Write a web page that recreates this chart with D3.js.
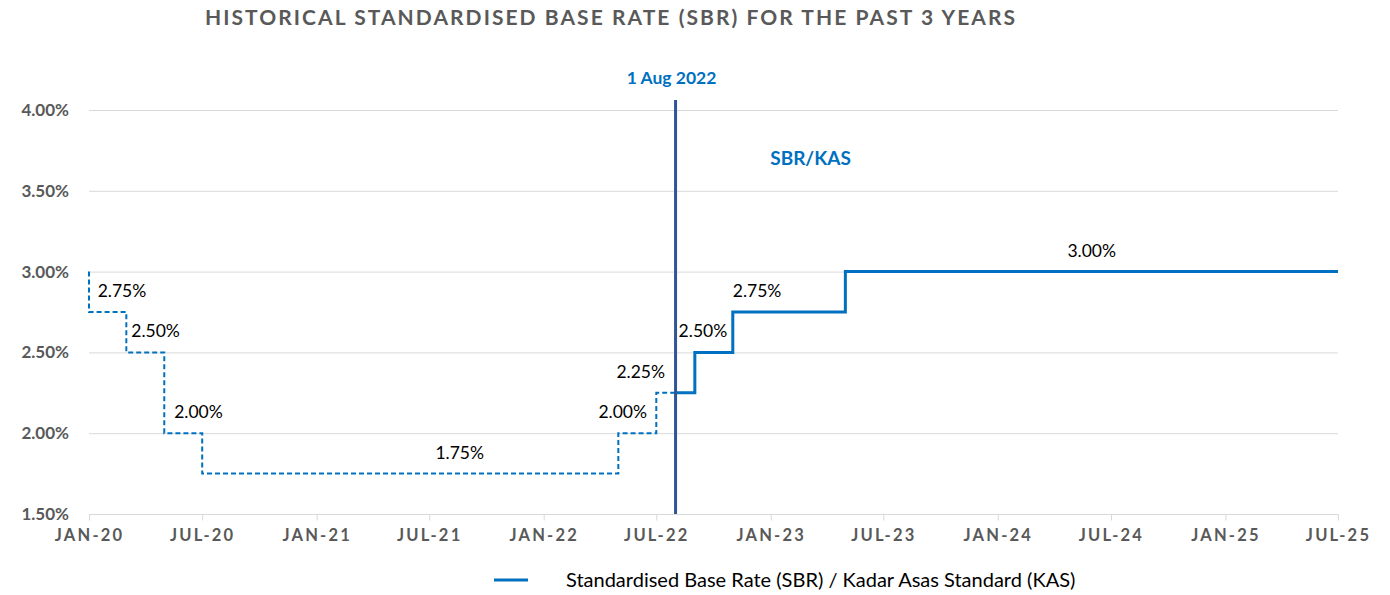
<!DOCTYPE html>
<html>
<head>
<meta charset="utf-8">
<script src="https://cdn.jsdelivr.net/npm/d3@7"></script>
<style>
  body { margin: 0; background: #fff; }
  svg { display: block; font-family: Lato, 'Open Sans', sans-serif; }
</style>
</head>
<body>
<div class="viz"></div>
<script>
// past rates (dashed) - a step change at each date
const historyDates = ['2020-01-01', '2020-01-01', '2020-03-01', '2020-05-01', '2020-07-01', '2022-05-01', '2022-07-01', '2022-08-01'];
const historyRates = [3.00, 2.75, 2.50, 2.00, 1.75, 2.00, 2.25, 2.25];
// SBR/KAS from 1 Aug 2022 (solid)
const sbrDates = ['2022-08-01', '2022-09-01', '2022-11-01', '2023-05-01', '2025-07-01'];
const sbrRates = [2.25, 2.50, 2.75, 3.00, 3.00];
// data labels sitting above the steps
const labelDates = ['2020-02-23', '2020-04-17', '2020-06-25', '2021-08-19', '2022-05-08', '2022-06-06', '2022-09-14', '2022-12-10', '2024-05-31'];
const labelRates = [2.75, 2.50, 2.00, 1.75, 2.00, 2.25, 2.50, 2.75, 3.00];
const yTicks = [1.5, 2.0, 2.5, 3.0, 3.5, 4.0];
const cutoverDate = '2022-08-01';

const parse = d3.timeParse('%Y-%m-%d');
const blue = '#0070c0';
const grey = '#595959';

const margin = { top: 110, right: 52, bottom: 81, left: 89 };
const fullWidth = 1390;
const fullHeight = 595;
const width = fullWidth - margin.left - margin.right;
const height = fullHeight - margin.top - margin.bottom;

const svg = d3.select('.viz')
  .append('svg')
  .attr('width', fullWidth)
  .attr('height', fullHeight);

// title
svg.append('text')
  .attr('x', 205)
  .attr('y', 25)
  .attr('textLength', 810)
  .attr('lengthAdjust', 'spacing')
  .attr('font-size', 21)
  .attr('font-weight', 700)
  .attr('fill', grey)
  .text('HISTORICAL STANDARDISED BASE RATE (SBR) FOR THE PAST 3 YEARS');

const g = svg.append('g')
  .attr('transform', `translate(${margin.left} ${margin.top})`);

const xScale = d3.scaleTime()
  .domain([parse('2020-01-01'), parse('2025-07-01')])
  .range([0, width]);

const yScale = d3.scaleLinear()
  .domain([1.5, 4.0])
  .range([height, 0]);

// horizontal grid
g.append('g')
  .selectAll('line')
  .data(yTicks)
  .join('line')
  .attr('x1', 0)
  .attr('x2', width)
  .attr('y1', d => yScale(d) + 0.5)
  .attr('y2', d => yScale(d) + 0.5)
  .attr('stroke', '#d9d9d9');

// y axis labels
const yAxis = d3.axisLeft(yScale)
  .tickValues(yTicks)
  .tickFormat(d => d3.format('.2f')(d) + '%')
  .tickSize(0)
  .tickPadding(20);

const yAxisG = g.append('g').call(yAxis);
yAxisG.select('.domain').remove();
yAxisG.selectAll('text')
  .attr('font-family', 'Lato, sans-serif')
  .attr('font-size', 17)
  .attr('font-weight', 700)
  .attr('fill', grey);

// x axis, ticks every 6 months
const xAxis = d3.axisBottom(xScale)
  .ticks(d3.timeMonth.every(6))
  .tickFormat(d => d3.timeFormat('%b-%y')(d).toUpperCase())
  .tickSize(6)
  .tickPadding(9);

const xAxisG = g.append('g')
  .attr('transform', `translate(0 ${height + 0.5})`)
  .call(xAxis);
xAxisG.select('.domain').remove();
xAxisG.selectAll('line').attr('stroke', '#d9d9d9');
xAxisG.selectAll('text')
  .attr('font-family', 'Lato, sans-serif')
  .attr('font-size', 16.5)
  .attr('font-weight', 700)
  .attr('letter-spacing', 2.2)
  .attr('fill', grey);

const line = d3.line()
  .x(d => xScale(d.date))
  .y(d => yScale(d.rate))
  .curve(d3.curveStepAfter);

const history = historyDates.map((d, i) => ({ date: parse(d), rate: historyRates[i] }));
const sbr = sbrDates.map((d, i) => ({ date: parse(d), rate: sbrRates[i] }));

g.append('path')
  .attr('d', line(history))
  .attr('fill', 'none')
  .attr('stroke', blue)
  .attr('stroke-width', 2)
  .attr('stroke-dasharray', '5 3');

g.append('path')
  .attr('d', line(sbr))
  .attr('fill', 'none')
  .attr('stroke', blue)
  .attr('stroke-width', 3);

// 1 Aug 2022 marker
const xCut = xScale(parse(cutoverDate));
g.append('line')
  .attr('x1', xCut)
  .attr('x2', xCut)
  .attr('y1', yScale(4.0) - 10)
  .attr('y2', height)
  .attr('stroke', '#2f5597')
  .attr('stroke-width', 3);

g.append('text')
  .attr('x', xCut - 4)
  .attr('y', yScale(4.0) - 26)
  .attr('text-anchor', 'middle')
  .attr('font-size', 17.5)
  .attr('font-weight', 700)
  .attr('fill', blue)
  .text('1 Aug 2022');

g.append('text')
  .attr('x', xCut + 135)
  .attr('y', yScale(3.5) - 26)
  .attr('text-anchor', 'middle')
  .attr('font-size', 19)
  .attr('font-weight', 700)
  .attr('fill', blue)
  .text('SBR/KAS');

// data labels
g.append('g')
  .selectAll('text')
  .data(labelDates)
  .join('text')
  .attr('x', d => xScale(parse(d)))
  .attr('y', (d, i) => yScale(labelRates[i]) - 15)
  .attr('text-anchor', 'middle')
  .attr('font-size', 17.5)
  .attr('fill', '#000')
  .text((d, i) => d3.format('.2f')(labelRates[i]) + '%');

// legend
const legend = svg.append('g')
  .attr('transform', 'translate(494 580)');
legend.append('line')
  .attr('x1', 0)
  .attr('x2', 34)
  .attr('stroke', blue)
  .attr('stroke-width', 3);
legend.append('text')
  .attr('x', 72)
  .attr('y', 7)
  .attr('font-size', 20)
  .attr('fill', '#000')
  .text('Standardised Base Rate (SBR) / Kadar Asas Standard (KAS)');
</script>
</body>
</html>
